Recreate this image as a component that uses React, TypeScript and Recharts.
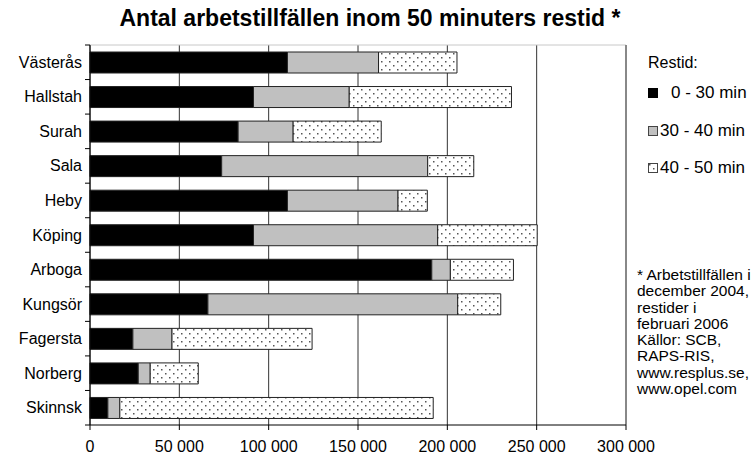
import { BarChart, Bar, XAxis, YAxis, CartesianGrid, ReferenceLine } from 'recharts'

const kommuner = ['Västerås', 'Hallstah', 'Surah', 'Sala', 'Heby', 'Köping', 'Arboga', 'Kungsör', 'Fagersta', 'Norberg', 'Skinnsk']
const min0_30 = [110500, 91500, 82900, 73700, 110500, 91500, 191300, 66000, 24000, 27000, 10000]
const min30_40 = [51000, 53600, 30800, 115300, 61900, 103100, 10400, 139800, 21900, 6700, 6700]
const min40_50 = [43900, 90800, 49300, 25800, 16400, 55700, 35300, 24100, 78400, 26900, 175400]
const xTicks = [0, 50000, 100000, 150000, 200000, 250000, 300000]
const legendLabels = ['0 - 30 min', '30 - 40 min', '40 - 50 min']
const noteLines = ['* Arbetstillfällen i', 'december 2004,', 'restider i', 'februari 2006', 'Källor: SCB,', 'RAPS-RIS,', 'www.resplus.se,', 'www.opel.com']

const data = kommuner.map((name, i) => ({ name, a: min0_30[i], b: min30_40[i], c: min40_50[i] }))

const FONT = '"Liberation Sans", Arial, sans-serif'
const PLOT_TOP = 45
const PLOT_BOTTOM = 425
const BAND = (PLOT_BOTTOM - PLOT_TOP) / kommuner.length
const EDGE = '#222'

const fmt = (v: number) => v === 0 ? '0' : `${Math.floor(v / 1000)} 000`

function CatTick({ x, y, payload, index }: any) {
  return (
    <g>
      <text x={x - 8} y={y} textAnchor="end" dominantBaseline="central" fontSize={16} fontFamily={FONT} fill="#000">
        {payload.value}
      </text>
      <line x1={x - 5} x2={x} y1={y - BAND / 2} y2={y - BAND / 2} stroke="#000" />
      {index === kommuner.length - 1 && (
        <line x1={x - 5} x2={x} y1={y + BAND / 2} y2={y + BAND / 2} stroke="#000" />
      )}
    </g>
  )
}

function Swatch({ kind }: { kind: number }) {
  const fill = kind === 0 ? '#000' : kind === 1 ? '#c0c0c0' : 'url(#dots)'
  return (
    <svg width={10} height={10} style={{ display: 'block' }}>
      <rect x={0.5} y={0.5} width={9} height={9} fill={fill} stroke={kind === 0 ? '#000' : '#444'} />
    </svg>
  )
}

export default function App() {
  return (
    <div style={{ position: 'absolute', left: 0, top: 0, width: 752, height: 462, background: '#fff', fontFamily: FONT }}>
      <svg width={0} height={0} style={{ position: 'absolute' }}>
        <defs>
          <pattern id="dots" width={8} height={8} patternUnits="userSpaceOnUse">
            <rect width={8} height={8} fill="#fff" />
            <rect x={1} y={1} width={1.5} height={1.5} fill="#555" />
            <rect x={5} y={5} width={1.5} height={1.5} fill="#555" />
          </pattern>
        </defs>
      </svg>

      <div style={{ position: 'absolute', left: 0, width: 740, top: 5, textAlign: 'center', fontSize: 23, fontWeight: 'bold', lineHeight: '26px' }}>
        Antal arbetstillfällen inom 50 minuters restid *
      </div>

      <BarChart
        width={752}
        height={462}
        data={data}
        layout="vertical"
        barSize={21}
        margin={{ top: PLOT_TOP, right: 126, left: 10, bottom: 7 }}
      >
        <CartesianGrid horizontal={false} stroke="#333" />
        <CartesianGrid vertical={false} horizontalPoints={[PLOT_TOP]} stroke="#c8c8c8" />
        <XAxis
          type="number"
          domain={[0, 300000]}
          ticks={xTicks}
          tickFormatter={fmt}
          height={30}
          tickSize={5}
          tickMargin={11}
          interval={0}
          axisLine={{ stroke: '#000' }}
          tickLine={{ stroke: '#000' }}
          tick={{ fontSize: 16, fill: '#000', fontFamily: FONT }}
        />
        <YAxis
          type="category"
          dataKey="name"
          width={80}
          tickSize={0}
          tickMargin={0}
          tickLine={false}
          axisLine={{ stroke: '#000' }}
          interval={0}
          tick={<CatTick />}
        />
        <ReferenceLine x={300000} stroke="#888" strokeWidth={2} />
        <Bar dataKey="a" stackId="s" fill="#000" stroke={EDGE} strokeWidth={1} isAnimationActive={false} />
        <Bar dataKey="b" stackId="s" fill="#c0c0c0" stroke={EDGE} strokeWidth={1} isAnimationActive={false} />
        <Bar dataKey="c" stackId="s" fill="url(#dots)" stroke={EDGE} strokeWidth={1} isAnimationActive={false} />
      </BarChart>

      <div style={{ position: 'absolute', left: 648, top: 54, fontSize: 16, lineHeight: '18px' }}>Restid:</div>
      {legendLabels.map((label, i) => (
        <div key={label} style={{ position: 'absolute', left: 648, top: 83 + i * 37.5, height: 20, display: 'flex', alignItems: 'center', fontSize: 17 }}>
          <Swatch kind={i} />
          <span style={{ marginLeft: i === 0 ? 13 : 2 }}>{label}</span>
        </div>
      ))}

      <div style={{ position: 'absolute', left: 637, top: 267, fontSize: 15.5, lineHeight: '16.3px', whiteSpace: 'nowrap' }}>
        {noteLines.map(l => <div key={l}>{l}</div>)}
      </div>
    </div>
  )
}
